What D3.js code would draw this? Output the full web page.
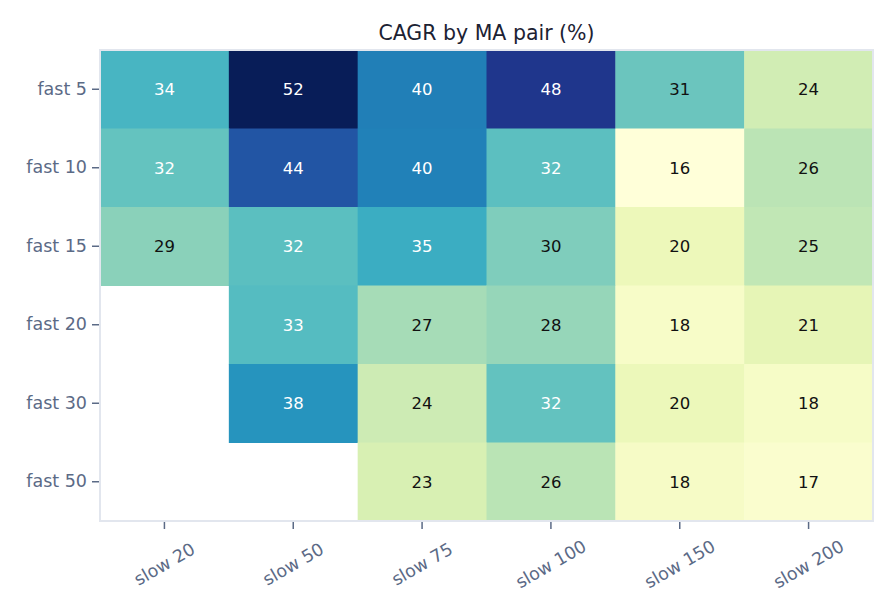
<!DOCTYPE html>
<html>
<head>
<meta charset="utf-8">
<script src="https://cdn.jsdelivr.net/npm/d3@7"></script>
<style>
  body { margin: 0; background: #fff; }
  text { font-family: "DejaVu Sans", sans-serif; }
</style>
</head>
<body>
<svg id="chart" width="896" height="616"></svg>
<script>
// rows = fast MA, cols = slow MA, values = CAGR %
var fastLabels = ['fast 5', 'fast 10', 'fast 15', 'fast 20', 'fast 30', 'fast 50'];
var slowLabels = ['slow 20', 'slow 50', 'slow 75', 'slow 100', 'slow 150', 'slow 200'];

var cagrFast5  = [34.0, 52.2, 40.2, 47.8, 31.2, 23.8];
var cagrFast10 = [31.7, 44.2, 40.0, 32.3, 16.2, 25.7];
var cagrFast15 = [29.1, 32.4, 35.2, 29.8, 20.2, 25.2];
var cagrFast20 = [null, 32.9, 27.2, 28.3, 18.2, 21.2];
var cagrFast30 = [null, 38.1, 24.2, 31.8, 20.3, 18.3];
var cagrFast50 = [null, null, 23.1, 25.8, 18.4, 17.4];

var grid = [cagrFast5, cagrFast10, cagrFast15, cagrFast20, cagrFast30, cagrFast50];

var width = 896, height = 616;
var margin = {top: 50, right: 23, bottom: 95, left: 100};

var svg = d3.select('#chart');

var cells = [];
grid.forEach(function(row, i) {
  row.forEach(function(v, j) {
    if (v !== null) cells.push({fast: fastLabels[i], slow: slowLabels[j], value: v});
  });
});

var x = d3.scaleBand()
  .domain(slowLabels)
  .range([margin.left, width - margin.right]);

var y = d3.scaleBand()
  .domain(fastLabels)
  .range([margin.top, height - margin.bottom]);

var allVals = cells.map(function(d) { return d.value; });
var color = d3.scaleSequential(d3.interpolateYlGnBu)
  .domain(d3.extent(allVals));

// cells
svg.append('g')
  .selectAll('rect')
  .data(cells)
  .enter()
  .append('rect')
  .attr('x', function(d) { return x(d.slow); })
  .attr('y', function(d) { return y(d.fast); })
  .attr('width', x.bandwidth() + 0.5)
  .attr('height', y.bandwidth() + 0.5)
  .attr('fill', function(d) { return color(d.value); });

// cell labels
svg.append('g')
  .selectAll('text')
  .data(cells)
  .enter()
  .append('text')
  .attr('x', function(d) { return x(d.slow) + x.bandwidth() / 2; })
  .attr('y', function(d) { return y(d.fast) + y.bandwidth() / 2; })
  .attr('dy', '0.35em')
  .attr('text-anchor', 'middle')
  .attr('font-size', '16.5px')
  .attr('fill', function(d) { return d.value > 31.5 ? '#ffffff' : '#111111'; })
  .text(function(d) { return d3.format('.0f')(d.value); });

// plot frame
svg.append('rect')
  .attr('x', margin.left)
  .attr('y', margin.top)
  .attr('width', width - margin.left - margin.right)
  .attr('height', height - margin.top - margin.bottom)
  .attr('fill', 'none')
  .attr('stroke', '#e2e6ee')
  .attr('stroke-width', 2);

var tickColor = '#5b6a86';

// x axis
var xAxis = svg.append('g')
  .attr('transform', 'translate(0,' + (height - margin.bottom + 1) + ')')
  .call(d3.axisBottom(x).tickSize(7).tickPadding(6));
xAxis.select('.domain').remove();
xAxis.selectAll('line').attr('stroke', tickColor).attr('stroke-width', 1.5);
xAxis.selectAll('text')
  .attr('fill', tickColor)
  .attr('font-size', '17.5px')
  .attr('text-anchor', 'middle')
  .attr('transform', 'translate(0,42) rotate(-30)')
  .attr('dy', '0.35em')
  .attr('y', 0);

// y axis
var yAxis = svg.append('g')
  .attr('transform', 'translate(' + (margin.left - 1) + ',0)')
  .call(d3.axisLeft(y).tickSize(7).tickPadding(5));
yAxis.select('.domain').remove();
yAxis.selectAll('line').attr('stroke', tickColor).attr('stroke-width', 1.5);
yAxis.selectAll('text')
  .attr('fill', tickColor)
  .attr('font-size', '17.5px');

// title
svg.append('text')
  .attr('x', (margin.left + width - margin.right) / 2)
  .attr('y', 40)
  .attr('text-anchor', 'middle')
  .attr('font-size', '20.5px')
  .attr('fill', '#1c2233')
  .text('CAGR by MA pair (%)');
</script>
</body>
</html>
